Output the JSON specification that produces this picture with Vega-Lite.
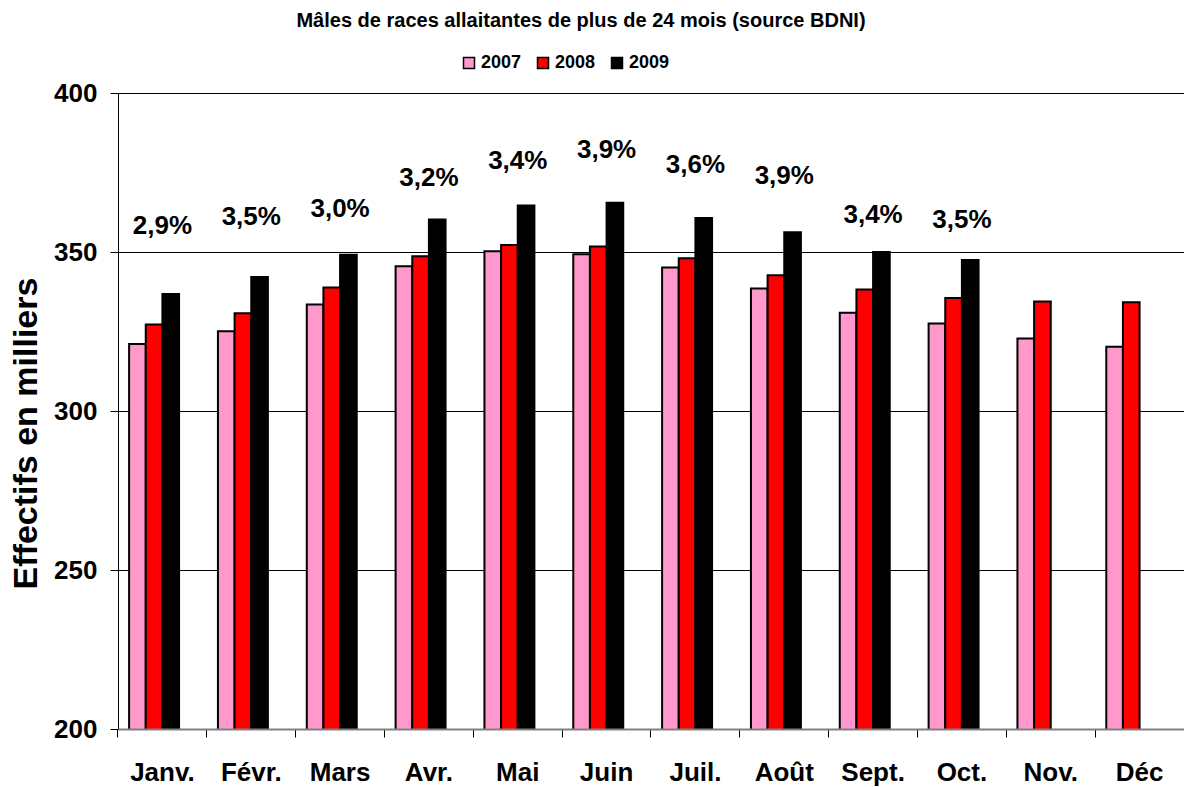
{
  "$schema": "https://vega.github.io/schema/vega-lite/v6.json",
  "width": 1066,
  "height": 636,
  "autosize": "none",
  "padding": {"left": 118, "top": 93, "right": 0, "bottom": 58},
  "background": "white",
  "title": {
    "text": "Mâles de races allaitantes de plus de 24 mois (source BDNI)",
    "fontSize": 20,
    "font": "Liberation Sans",
    "fontWeight": "bold",
    "color": "black",
    "anchor": "middle",
    "dx": -70,
    "offset": 23
  },
  "config": {
    "view": {"stroke": null},
    "font": "Liberation Sans"
  },
  "datasets": {
    "bars": [
      {"mois": "Janv.", "annee": "2007", "effectif": 321.1},
      {"mois": "Janv.", "annee": "2008", "effectif": 327.2},
      {"mois": "Janv.", "annee": "2009", "effectif": 336.8},
      {"mois": "Févr.", "annee": "2007", "effectif": 325.1},
      {"mois": "Févr.", "annee": "2008", "effectif": 330.7},
      {"mois": "Févr.", "annee": "2009", "effectif": 342.1},
      {"mois": "Mars", "annee": "2007", "effectif": 333.5},
      {"mois": "Mars", "annee": "2008", "effectif": 338.8},
      {"mois": "Mars", "annee": "2009", "effectif": 349.1},
      {"mois": "Avr.", "annee": "2007", "effectif": 345.5},
      {"mois": "Avr.", "annee": "2008", "effectif": 348.7},
      {"mois": "Avr.", "annee": "2009", "effectif": 360.2},
      {"mois": "Mai", "annee": "2007", "effectif": 350.2},
      {"mois": "Mai", "annee": "2008", "effectif": 352.2},
      {"mois": "Mai", "annee": "2009", "effectif": 364.6},
      {"mois": "Juin", "annee": "2007", "effectif": 349.3},
      {"mois": "Juin", "annee": "2008", "effectif": 351.7},
      {"mois": "Juin", "annee": "2009", "effectif": 365.5},
      {"mois": "Juil.", "annee": "2007", "effectif": 345.1},
      {"mois": "Juil.", "annee": "2008", "effectif": 348.0},
      {"mois": "Juil.", "annee": "2009", "effectif": 360.7},
      {"mois": "Août", "annee": "2007", "effectif": 338.5},
      {"mois": "Août", "annee": "2008", "effectif": 342.7},
      {"mois": "Août", "annee": "2009", "effectif": 356.2},
      {"mois": "Sept.", "annee": "2007", "effectif": 330.9},
      {"mois": "Sept.", "annee": "2008", "effectif": 338.2},
      {"mois": "Sept.", "annee": "2009", "effectif": 350.0},
      {"mois": "Oct.", "annee": "2007", "effectif": 327.5},
      {"mois": "Oct.", "annee": "2008", "effectif": 335.5},
      {"mois": "Oct.", "annee": "2009", "effectif": 347.5},
      {"mois": "Nov.", "annee": "2007", "effectif": 322.8},
      {"mois": "Nov.", "annee": "2008", "effectif": 334.4},
      {"mois": "Déc", "annee": "2007", "effectif": 320.2},
      {"mois": "Déc", "annee": "2008", "effectif": 334.2}
    ],
    "labels": [
      {"mois": "Janv.", "evolution": "2,9%", "niveau": 358.1},
      {"mois": "Févr.", "evolution": "3,5%", "niveau": 360.9},
      {"mois": "Mars", "evolution": "3,0%", "niveau": 363.5},
      {"mois": "Avr.", "evolution": "3,2%", "niveau": 373.2},
      {"mois": "Mai", "evolution": "3,4%", "niveau": 378.6},
      {"mois": "Juin", "evolution": "3,9%", "niveau": 382.2},
      {"mois": "Juil.", "evolution": "3,6%", "niveau": 377.4},
      {"mois": "Août", "evolution": "3,9%", "niveau": 374.0},
      {"mois": "Sept.", "evolution": "3,4%", "niveau": 361.6},
      {"mois": "Oct.", "evolution": "3,5%", "niveau": 360.1}
    ]
  },
  "encoding": {
    "x": {
      "field": "mois",
      "type": "nominal",
      "scale": {
        "domain": ["Janv.", "Févr.", "Mars", "Avr.", "Mai", "Juin", "Juil.", "Août", "Sept.", "Oct.", "Nov.", "Déc"],
        "paddingInner": 0.25,
        "paddingOuter": 0.125
      },
      "axis": {
        "title": null,
        "labelAngle": 0,
        "labelFontSize": 26,
        "labelFontWeight": "bold",
        "labelColor": "black",
        "labelPadding": 22,
        "tickSize": 8,
        "tickColor": "black",
        "bandPosition": -0.1667,
        "domainColor": "#808080",
        "domainWidth": 2,
        "grid": false,
        "zindex": 2
      }
    }
  },
  "layer": [
    {
      "data": {"name": "bars"},
      "mark": {"type": "bar", "stroke": "black", "strokeWidth": 2, "clip": true},
      "encoding": {
        "xOffset": {
          "field": "annee",
          "type": "nominal",
          "scale": {"domain": ["2007", "2008", "2009", "_"], "paddingInner": 0, "paddingOuter": 0}
        },
        "y": {
          "field": "effectif",
          "type": "quantitative",
          "scale": {"domain": [200, 400], "zero": false, "nice": false},
          "axis": {
            "title": "Effectifs en milliers",
            "titleFontSize": 34,
            "titleFontWeight": "bold",
            "titleColor": "black",
            "titlePadding": 10,
            "titleY": 340,
            "values": [200, 250, 300, 350, 400],
            "labelFontSize": 26,
            "labelFontWeight": "bold",
            "labelColor": "black",
            "labelPadding": 13,
            "tickSize": 8,
            "tickColor": "black",
            "domainColor": "black",
            "gridColor": "black",
            "gridOpacity": 1,
            "gridWidth": 1
          }
        },
        "fill": {
          "field": "annee",
          "type": "nominal",
          "scale": {"domain": ["2007", "2008", "2009"], "range": ["#FF99CC", "#FF0000", "#000000"]},
          "legend": {
            "title": null,
            "orient": "none",
            "direction": "horizontal",
            "legendX": 342,
            "legendY": -39,
            "symbolType": "square",
            "symbolSize": 121,
            "symbolStrokeColor": "black",
            "symbolStrokeWidth": 1.5,
            "symbolOpacity": 1,
            "labelFontSize": 18,
            "labelFontWeight": "bold",
            "labelColor": "black",
            "labelOffset": 3,
            "columnPadding": 12
          }
        }
      }
    },
    {
      "data": {"name": "labels"},
      "mark": {"type": "text", "fontSize": 26, "fontWeight": "bold", "color": "black", "baseline": "middle", "align": "center"},
      "encoding": {
        "y": {"field": "niveau", "type": "quantitative"},
        "text": {"field": "evolution"}
      }
    }
  ]
}
